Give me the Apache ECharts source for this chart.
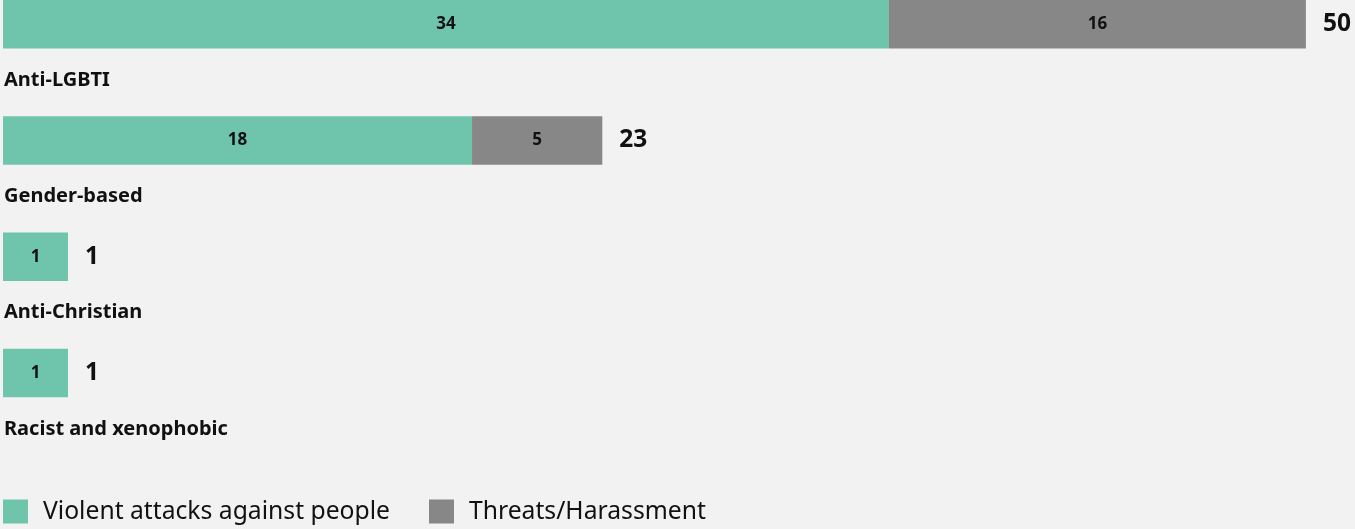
<!DOCTYPE html>
<html>
<head>
<meta charset="utf-8">
<script src="https://cdn.jsdelivr.net/npm/echarts@6/dist/echarts.min.js"></script>
<style>
  html, body { margin: 0; padding: 0; background: #f2f2f2; }
  #chart { width: 1355px; height: 529px; }
</style>
</head>
<body>
<div id="chart"></div>
<script>
// Incident categories, top to bottom
const categories = ['Anti-LGBTI', 'Gender-based', 'Anti-Christian', 'Racist and xenophobic'];
// Counts per incident type ('-' = none recorded)
const violentAttacks = [34, 18, 1, 1];
const threatsHarassment = [16, 5, '-', '-'];
const seriesNames = ['Violent attacks against people', 'Threats/Harassment'];

// Row totals shown at the end of each bar
const totals = categories.map((_, i) =>
  (typeof violentAttacks[i] === 'number' ? violentAttacks[i] : 0) +
  (typeof threatsHarassment[i] === 'number' ? threatsHarassment[i] : 0));

const GREEN = '#6fc5ac';
const GREY = '#878787';
const FONT = '"Noto Sans", "DejaVu Sans", sans-serif';
const BAR_W = 48.5;

const chart = echarts.init(document.getElementById('chart'));

const innerLabel = {
  show: true,
  position: 'inside',
  color: '#111',
  fontFamily: FONT,
  fontWeight: 'bold',
  fontSize: 17
};

chart.setOption({
  backgroundColor: '#f2f2f2',
  animation: false,
  grid: { left: 3, top: -34, width: 1355, height: 465.2, outerBoundsMode: 'none', containLabel: false },
  xAxis: {
    type: 'value',
    min: 0,
    max: 52,
    show: false
  },
  yAxis: {
    type: 'category',
    inverse: true,
    data: categories,
    axisLine: { show: false },
    axisTick: { show: false },
    splitLine: { show: false },
    axisLabel: { show: false }
  },
  legend: {
    data: seriesNames,
    left: 3,
    top: 499,
    padding: 0,
    itemWidth: 25,
    itemHeight: 24,
    itemGap: 39,
    icon: 'rect',
    textStyle: {
      color: '#111',
      fontFamily: FONT,
      fontSize: 24.7,
      padding: [10, 0, 0, 10]
    }
  },
  series: [
    {
      name: seriesNames[0],
      type: 'bar',
      stack: 'incidents',
      barWidth: BAR_W,
      barMinHeight: 65,
      itemStyle: { color: GREEN },
      label: innerLabel,
      data: violentAttacks
    },
    {
      name: seriesNames[1],
      type: 'bar',
      stack: 'incidents',
      barWidth: BAR_W,
      itemStyle: { color: GREY },
      label: innerLabel,
      data: threatsHarassment
    },
    {
      // Invisible overlay spanning each row's total; carries the total label
      name: 'Total',
      type: 'bar',
      barWidth: BAR_W,
      barGap: '-100%',
      barMinHeight: 65,
      silent: true,
      z: 1,
      itemStyle: { color: 'rgba(0,0,0,0)' },
      label: {
        show: true,
        position: 'right',
        distance: 17,
        color: '#111',
        fontFamily: FONT,
        fontWeight: 'bold',
        fontSize: 24.5
      },
      data: totals
    },
    {
      // Invisible overlay carrying the category name beneath each bar
      name: 'Category',
      type: 'bar',
      barWidth: BAR_W,
      barGap: '-100%',
      barMinHeight: 65,
      silent: true,
      z: 1,
      itemStyle: { color: 'rgba(0,0,0,0)' },
      label: {
        show: true,
        position: [1, BAR_W / 2 + 56],
        align: 'left',
        verticalAlign: 'middle',
        formatter: '{b}',
        color: '#111',
        fontFamily: FONT,
        fontWeight: 'bold',
        fontSize: 20
      },
      data: totals
    }
  ]
});
</script>
</body>
</html>
